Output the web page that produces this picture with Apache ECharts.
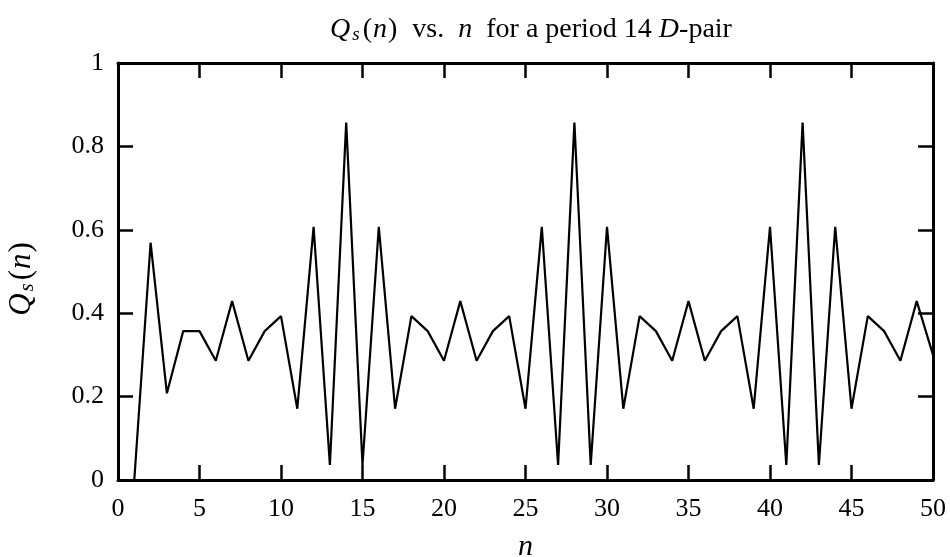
<!DOCTYPE html>
<html>
<head>
<meta charset="utf-8">
<script src="https://cdn.jsdelivr.net/npm/echarts@6/dist/echarts.min.js"></script>
<style>html,body{margin:0;padding:0;background:#fff;}#c{width:950px;height:557px;}</style>
</head>
<body>
<div id="c"></div>
<script>
const nValues = [1,2,3,4,5,6,7,8,9,10,11,12,13,14,15,16,17,18,19,20,21,22,23,24,25,26,27,28,29,30,31,32,33,34,35,36,37,38,39,40,41,42,43,44,45,46,47,48,49,50];
const qsValues = [0,0.569,0.208,0.357,0.357,0.286,0.429,0.286,0.357,0.393,
  0.171,0.607,0.036,0.857,0.036,0.607,0.171,0.393,0.357,0.286,
  0.429,0.286,0.357,0.393,0.171,0.607,0.036,0.857,0.036,0.607,
  0.171,0.393,0.357,0.286,0.429,0.286,0.357,0.393,0.171,0.607,
  0.036,0.857,0.036,0.607,0.171,0.393,0.357,0.286,0.429,0.3];
const xTicks = [0,5,10,15,20,25,30,35,40,45,50];
const yTicks = [0,0.2,0.4,0.6,0.8,1];

const FONT = '"Liberation Serif", "DejaVu Serif", serif';
const chart = echarts.init(document.getElementById('c'), null, {renderer:'canvas'});
const axisLine = {show:true, onZero:false, lineStyle:{color:'#000', width:3}};
const tick = {show:true, inside:true, length:15, lineStyle:{color:'#000', width:2.5}};
function mkRich(sz, subSz, pad){
  return {
    i:{fontFamily:FONT, fontStyle:'italic', fontWeight:'normal', fontSize:sz, color:'#000'},
    r:{fontFamily:FONT, fontWeight:'normal', fontSize:sz, color:'#000'},
    s:{fontFamily:FONT, fontStyle:'italic', fontWeight:'normal', fontSize:subSz, color:'#000', padding:[pad,2,0,2]},
    p:{fontFamily:FONT, fontWeight:'normal', fontSize:sz, color:'#000', padding:[0,1,0,1]}
  };
}
const titleRich = mkRich(28, 19, 10);
const yRich = mkRich(31, 21, 12);
const xRich = mkRich(30, 20, 10);
chart.setOption({
  animation:false,
  backgroundColor:'#fff',
  title:{
    text:'{i|Q}{s|s}{p|(}{i|n}{p|)}{r|  vs.  }{i|n}{r|  for a period 14 }{i|D}{r|-pair}',
    left:526, top:10, textAlign:'center',
    textStyle:{fontWeight:'normal', rich:titleRich}
  },
  grid:{left:118, right:17, top:63, bottom:77, containLabel:false, outerBoundsMode:'none'},
  xAxis:[{
    type:'value', min:0, max:50, interval:5, position:'bottom',
    axisLine:axisLine, axisTick:tick, splitLine:{show:false},
    axisLabel:{color:'#000', fontFamily:FONT, fontSize:26, margin:16,
      formatter:v => xTicks.indexOf(v) >= 0 ? String(v) : ''},
    name:'{i|n}', nameLocation:'middle', nameGap:52,
    nameTextStyle:{rich:xRich}
  },{
    type:'value', min:0, max:50, interval:5, position:'top',
    axisLine:axisLine, axisTick:tick, axisLabel:{show:false}, splitLine:{show:false}
  }],
  yAxis:[{
    type:'value', min:0, max:1, interval:0.2, position:'left',
    axisLine:axisLine, axisTick:tick, splitLine:{show:false},
    axisLabel:{color:'#000', fontFamily:FONT, fontSize:26, margin:14,
      formatter:v => { const t = yTicks.find(y => Math.abs(y - v) < 1e-9); return t === undefined ? '' : String(t); }},
    name:'{i|Q}{s|s}{p|(}{i|n}{p|)}', nameLocation:'middle', nameGap:80, nameRotate:90,
    nameTextStyle:{rich:yRich, padding:[0,14,0,0]}
  },{
    type:'value', min:0, max:1, interval:0.2, position:'right',
    axisLine:axisLine, axisTick:tick, axisLabel:{show:false}, splitLine:{show:false}
  }],
  series:[{
    type:'line', xAxisIndex:0, yAxisIndex:0,
    data:nValues.map((n,i)=>[n, qsValues[i]]),
    symbol:'none', lineStyle:{color:'#000', width:2.2}
  }]
});
</script>
</body>
</html>
